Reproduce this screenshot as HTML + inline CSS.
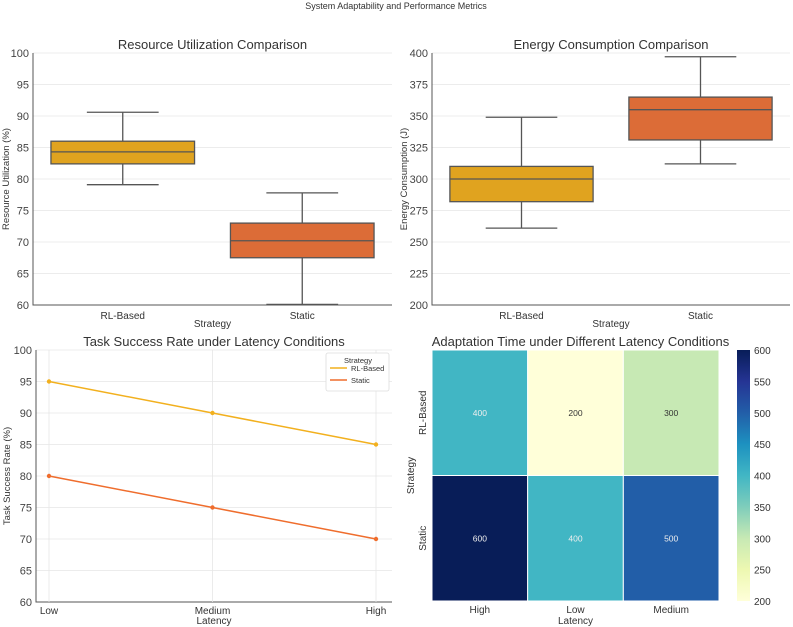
<!DOCTYPE html>
<html><head><meta charset="utf-8"><style>
body{margin:0;background:#fff;}
svg{display:block;font-family:"Liberation Sans","DejaVu Sans",sans-serif;}
</style></head><body>
<svg id="s" width="793" height="627" viewBox="0 0 793 627">
<defs><linearGradient id="cb" x1="0" y1="1" x2="0" y2="0">
<stop offset="0" stop-color="#ffffd9"/><stop offset="0.125" stop-color="#edf8b1"/><stop offset="0.25" stop-color="#c7e9b4"/><stop offset="0.375" stop-color="#7fcdbb"/><stop offset="0.5" stop-color="#41b6c4"/><stop offset="0.625" stop-color="#1d91c0"/><stop offset="0.75" stop-color="#225ea8"/><stop offset="0.875" stop-color="#253494"/><stop offset="1" stop-color="#081d58"/></linearGradient></defs>
<text x="396" y="9" font-size="9" text-anchor="middle" fill="#333">System Adaptability and Performance Metrics</text>
</svg>
<script>
const boxCats=["RL-Based","Static"];
const ruStats=[[79.1,82.4,84.3,86.0,90.6],[60.1,67.5,70.2,73.0,77.8]];
const ruTicks=[60,65,70,75,80,85,90,95,100];
const enStats=[[261,282,300,310,349],[312,331,355,365,397]];
const enTicks=[200,225,250,275,300,325,350,375,400];
const latCats=["Low","Medium","High"];
const rlSucc=[95,90,85];
const stSucc=[80,75,70];
const succTicks=[60,65,70,75,80,85,90,95,100];
const hmCols=["High","Low","Medium"];
const hmRows=["RL-Based","Static"];
const hmVals=[[400,200,300],[600,400,500]];
const cbTicks=[200,250,300,350,400,450,500,550,600];
const boxColors=["#e0a31f","#dc6c37"];

const S=document.getElementById('s');const NS="http://www.w3.org/2000/svg";
function mk(t,a,txt){const e=document.createElementNS(NS,t);for(const k in a)e.setAttribute(k,a[k]);if(txt!==undefined)e.textContent=txt;S.appendChild(e);return e;}

function axes(x0,x1,y0,y1,ticks,title,ylab,xlab,ylx){
  const lo=ticks[0],hi=ticks[ticks.length-1];
  const Y=v=>y1-(v-lo)/(hi-lo)*(y1-y0);
  ticks.forEach(t=>{
    const g=mk('line',{x1:x0,x2:x1,y1:Y(t),y2:Y(t),stroke:'#e6e6e6','stroke-width':0.8});
    
    
    const l=mk('text',{x:x0-4,y:Y(t)+4,'font-size':11,'text-anchor':'end',fill:'#444'},t);
    
    
  });
  const a=mk('path',{d:`M${x0} ${y0}V${y1}H${x1}`,stroke:'#555',fill:'none','stroke-width':1});
  
  
  const t=mk('text',{x:(x0+x1)/2,y:y0-4,'font-size':13,'text-anchor':'middle',fill:'#333'},title);
  
  
  const yl=mk('text',{x:0,y:0,'font-size':9.5,'text-anchor':'middle',fill:'#333',transform:`translate(${ylx},${(y0+y1)/2}) rotate(-90)`},ylab);
  
  
  const xl=mk('text',{x:(x0+x1)/2,y:y1+22,'font-size':10,'text-anchor':'middle',fill:'#333'},xlab);
  
  
  return Y;
}
function boxplot(x0,x1,y0,y1,ticks,stats,title,ylab,ylx){
  const Y=axes(x0,x1,y0,y1,ticks,title,ylab,'Strategy',ylx);
  const bw=(x1-x0)/2;
  stats.forEach((s,i)=>{
    const cx=x0+bw*(i+0.5),hw=bw*0.4;
    const w=mk('path',{d:`M${cx} ${Y(s[0])}V${Y(s[1])}M${cx} ${Y(s[3])}V${Y(s[4])}M${cx-hw/2} ${Y(s[0])}H${cx+hw/2}M${cx-hw/2} ${Y(s[4])}H${cx+hw/2}`,stroke:'#555','stroke-width':1.3,fill:'none'});
    
    
    const r=mk('rect',{x:cx-hw,y:Y(s[3]),width:2*hw,height:Y(s[1])-Y(s[3]),fill:boxColors[i],stroke:'#555','stroke-width':1.3});
    
    
    const m=mk('line',{x1:cx-hw,x2:cx+hw,y1:Y(s[2]),y2:Y(s[2]),stroke:'#555','stroke-width':1.3});
    
    
    const l=mk('text',{x:cx,y:y1+14,'font-size':10,'text-anchor':'middle',fill:'#333'},boxCats[i]);
    
    
  });
}
boxplot(33,392,53,305,ruTicks,ruStats,'Resource Utilization Comparison','Resource Utilization (%)',9);
boxplot(432,790,53,305,enTicks,enStats,'Energy Consumption Comparison','Energy Consumption (J)',407);

// line chart
(function(){
  const x0=36,x1=392,y0=350,y1=602;
  const Y=axes(x0,x1,y0,y1,succTicks,'Task Success Rate under Latency Conditions','Task Success Rate (%)','Latency',10);
  const X=i=>49+i*(376-49)/(latCats.length-1);
  latCats.forEach((c,i)=>{
    const g=mk('line',{x1:X(i),x2:X(i),y1:y0,y2:y1,stroke:'#e6e6e6','stroke-width':0.8});
    
    
    const l=mk('text',{x:X(i),y:y1+12,'font-size':10,'text-anchor':'middle',fill:'#333'},c);
    
    
  });
  [[rlSucc,'#f2b01e','rl-based'],[stSucc,'#ef6d2d','static']].forEach(([d,col,n])=>{
    const p=mk('polyline',{points:d.map((v,i)=>X(i)+','+Y(v)).join(' '),fill:'none',stroke:col,'stroke-width':1.5});
    
    
    d.forEach((v,i)=>{const c=mk('circle',{cx:X(i),cy:Y(v),r:2.2,fill:col});
      
      });
  });
  const lg=mk('rect',{x:326,y:353,width:63,height:38,fill:'#fff',stroke:'#ddd','stroke-width':0.8,rx:2});
  
  
  const lt=mk('text',{x:358,y:363,'font-size':7.5,'text-anchor':'middle',fill:'#333'},'Strategy');
  
  
  [['RL-Based','#f2b01e',371],['Static','#ef6d2d',383]].forEach(([n,c,y])=>{
    const l=mk('line',{x1:330,x2:347,y1:y-3,y2:y-3,stroke:c,'stroke-width':1.5});
    
    
    const t=mk('text',{x:351,y:y,'font-size':7.5,fill:'#333'},n);
    
    
  });
})();

// heatmap
(function(){
  const x0=432,x1=719,y0=350,y1=601;
  const stops=[[200,[255,255,217]],[250,[237,248,177]],[300,[199,233,180]],[350,[127,205,187]],[400,[65,182,196]],[450,[29,145,192]],[500,[34,94,168]],[550,[37,52,148]],[600,[8,29,88]]];
  function col(v){for(let i=0;i<stops.length-1;i++){const[a,ca]=stops[i],[b,cb]=stops[i+1];if(v<=b){const t=(v-a)/(b-a);return 'rgb('+ca.map((c,k)=>Math.round(c+(cb[k]-c)*t)).join(',')+')';}}return 'rgb(8,29,88)';}
  const cw=(x1-x0)/hmCols.length,ch=(y1-y0)/hmRows.length;
  hmVals.forEach((row,r)=>row.forEach((v,c)=>{
    const rc=mk('rect',{x:x0+c*cw,y:y0+r*ch,width:cw,height:ch,fill:col(v),stroke:'#fff','stroke-width':1});
    
    
    const t=mk('text',{x:x0+(c+0.5)*cw,y:y0+(r+0.5)*ch+3,'font-size':8.5,'text-anchor':'middle',fill:v>=400?'#eee':'#333'},v);
    
    
  }));
  hmCols.forEach((c,i)=>{const t=mk('text',{x:x0+(i+0.5)*cw,y:y1+12,'font-size':10,'text-anchor':'middle',fill:'#333'},c);
    
    });
  hmRows.forEach((c,i)=>{const t=mk('text',{x:0,y:0,'font-size':10,'text-anchor':'middle',fill:'#333',transform:`translate(${x0-6},${y0+(i+0.5)*ch}) rotate(-90)`},c);
    
    });
  const tt=mk('text',{x:(x0+x1)/2+5,y:y0-4,'font-size':13,'text-anchor':'middle',fill:'#333'},'Adaptation Time under Different Latency Conditions');
  
  
  const xl=mk('text',{x:(x0+x1)/2,y:y1+23,'font-size':10,'text-anchor':'middle',fill:'#333'},'Latency');
  
  
  const yl=mk('text',{x:0,y:0,'font-size':10,'text-anchor':'middle',fill:'#333',transform:`translate(${x0-18},${(y0+y1)/2}) rotate(-90)`},'Strategy');
  
  
  const cb=mk('rect',{x:737,y:y0,width:13,height:y1-y0,fill:'url(#cb)'});
  
  
  const lo=cbTicks[0],hi=cbTicks[cbTicks.length-1];
  cbTicks.forEach(t=>{const y=y1-(t-lo)/(hi-lo)*(y1-y0);
    const l=mk('text',{x:754,y:y+4,'font-size':10,fill:'#333'},t);
    
    });
})();
</script>
</body></html>
